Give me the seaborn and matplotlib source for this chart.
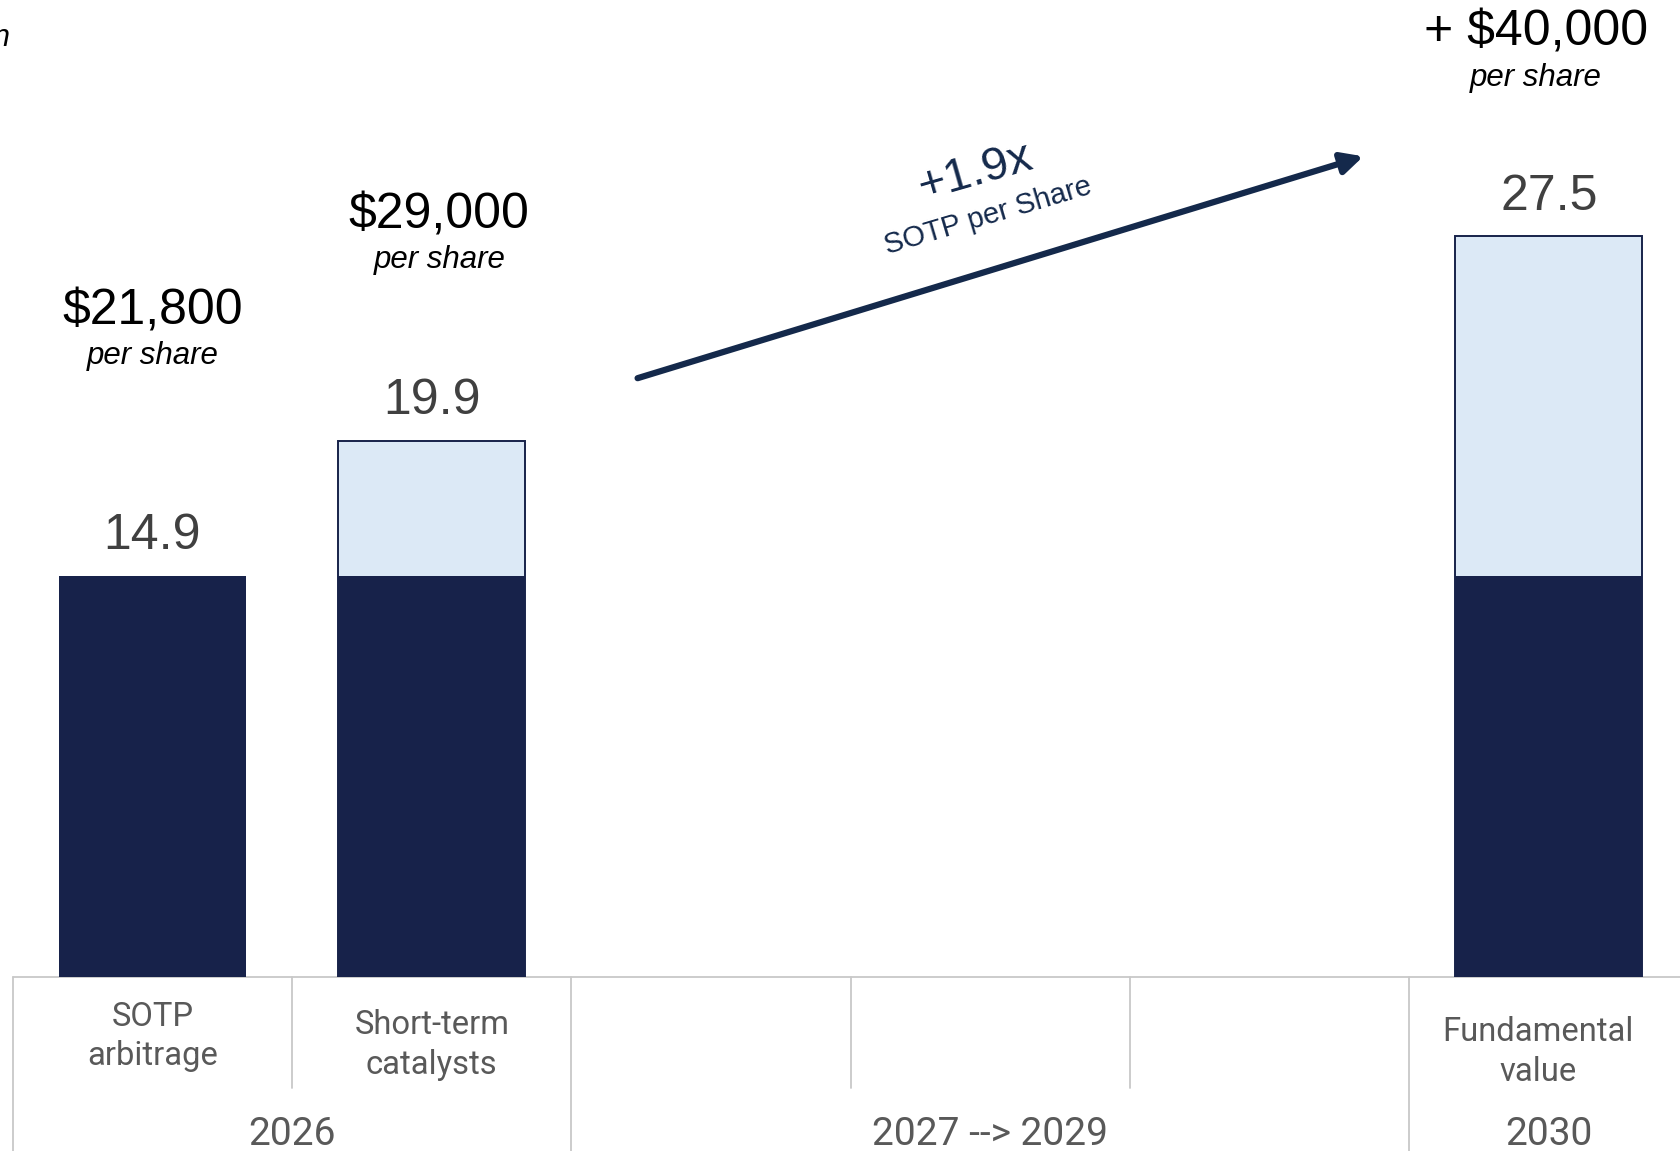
import matplotlib
matplotlib.use("Agg")
import matplotlib.pyplot as plt
import matplotlib.transforms as mtransforms
import seaborn as sns
import pandas as pd
import numpy as np

# ---------------- data ----------------
slots = ["SOTP arbitrage", "Short-term catalysts", "slot3", "slot4", "slot5", "Fundamental value"]
slot_labels = ["SOTP\narbitrage", "Short-term\ncatalysts", "", "", "", "Fundamental\nvalue"]
bar_slots = ["SOTP arbitrage", "Short-term catalysts", "Fundamental value"]
base_values = [14.9, 14.9, 14.9]
total_values = [14.9, 19.9, 27.5]
value_labels = ["14.9", "19.9", "27.5"]
headline_labels = ["$21,800", "$29,000", "+ $40,000"]
sub_labels = ["per share", "per share", "per share"]
groups = ["2026", "2027 --> 2029", "2030"]
arrow_main = "+1.9x"
arrow_sub = "SOTP per Share"

# ---------------- style ----------------
DARK = "#17224a"
LIGHT = "#dce9f6"
NAVY = "#14294b"
GRID = "#c8c8c8"
GREY_TXT = "#595959"
VAL_TXT = "#404040"

sns.set_theme(style="white")
plt.rcParams["font.family"] = ["Liberation Sans", "DejaVu Sans"]

fig = plt.figure(figsize=(16.81, 11.51), dpi=100)
ax = fig.add_axes([0.00765, 0.1508, 0.9968, 0.8492])

df_total = pd.DataFrame({"slot": [s for s, b, t in zip(bar_slots, base_values, total_values) if t > b],
                         "value": [t for b, t in zip(base_values, total_values) if t > b]})
df_base = pd.DataFrame({"slot": bar_slots, "value": base_values})

sns.barplot(data=df_total, x="slot", y="value", order=slots, color=LIGHT, saturation=1,
            width=0.67, edgecolor=DARK, linewidth=1.4, ax=ax, errorbar=None)
sns.barplot(data=df_base, x="slot", y="value", order=slots, color=DARK, saturation=1,
            width=0.67, linewidth=0, ax=ax, errorbar=None)

ax.set_xlim(-0.5, 5.5)
ax.set_ylim(0, 36.26)
ax.set_xlabel("")
ax.set_ylabel("")
ax.set_xticks([])
ax.set_yticks([])
for s in ax.spines.values():
    s.set_visible(False)

# baseline
ax.axhline(0, color=GRID, lw=1.3, zorder=0, clip_on=False)

# category separators (x in data, y in figure fraction)
trans = mtransforms.blended_transform_factory(ax.transData, fig.transFigure)
y_base = 0.1508
for x in [-0.5, 1.5, 4.5, 5.5]:
    ax.plot([x, x], [y_base, 0.0], transform=trans, color=GRID, lw=1.3, clip_on=False)
for x in [0.5, 2.5, 3.5]:
    ax.plot([x, x], [y_base, 0.0549], transform=trans, color=GRID, lw=1.3, clip_on=False)

cat_font = ["Roboto", "DejaVu Sans"]
cat_y = [0.0996, 0.0922, None, None, None, 0.0861]
cat_x = [0, 1, 2, 3, 4, 4.96]
for lab, x, y in zip(slot_labels, cat_x, cat_y):
    if lab:
        ax.text(x, y, lab, transform=trans, ha="center", va="center", fontsize=23.6,
                color=GREY_TXT, family=cat_font, linespacing=1.3)

group_x = [0.5, 3.0, 5.0]
for g, x in zip(groups, group_x):
    ax.text(x, 0.0142, g, transform=trans, ha="center", va="center", fontsize=28,
            color=GREY_TXT, family=cat_font)

# value labels on top of bars
bar_x = [slots.index(s) for s in bar_slots]
for x, t, lab in zip(bar_x, total_values, value_labels):
    ax.text(x, t + 1.47, lab, ha="center", va="center", fontsize=36, color=VAL_TXT)

# headline labels
head_y = [24.72, 28.25, 35.05]
sub_y = [23.06, 26.6, 33.36]
head_x = [0.0, 1.027, 4.954]
for x, hy, sy, h, s in zip(head_x, head_y, sub_y, headline_labels, sub_labels):
    ax.text(x, hy, h, ha="center", va="center", fontsize=36, color="black")
    ax.text(x, sy, s, ha="center", va="center", fontsize=22.5, color="black", style="italic")

# growth arrow
ax.annotate("", xy=(4.336, 30.46), xytext=(1.737, 22.23),
            arrowprops=dict(arrowstyle="-|>", lw=4.5, color=NAVY, mutation_scale=32,
                            shrinkA=0, shrinkB=0))
ax.text(2.946, 29.85, arrow_main, ha="center", va="center", fontsize=34, color=NAVY,
        rotation=16, rotation_mode="anchor")
ax.text(2.992, 28.25, arrow_sub, ha="center", va="center", fontsize=21, color=NAVY,
        rotation=16.5, rotation_mode="anchor")

# cut-off text at the top-left corner (cut in the reference as well)
fig.text(0.0058, 0.967, "n", ha="right", va="center", fontsize=22, style="italic", color="black")

fig.savefig("out.png", dpi=100)
